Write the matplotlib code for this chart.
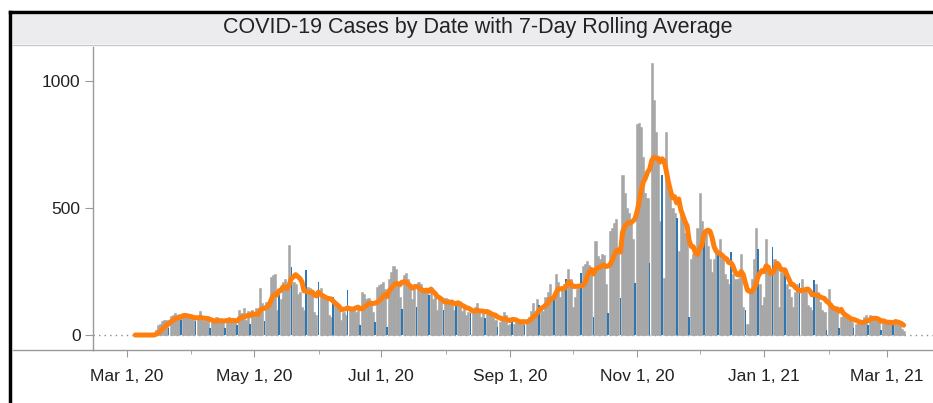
import matplotlib
matplotlib.use("Agg")
import matplotlib.pyplot as plt
import matplotlib.dates as mdates
from matplotlib.lines import Line2D
from matplotlib.patches import Rectangle
import numpy as np
import pandas as pd

plt.rcParams['font.family'] = ['Liberation Sans', 'DejaVu Sans']

# daily cases from 2020-03-05, one row per highlighted (blue) day
start_date = "2020-03-05"
cases = [
    0, 0, 0, 0, 0, 0, 0, 0, 0, 0,
    20, 40, 45, 55, 60, 60, 26,
    75, 80, 85, 78, 82, 60,
    75, 80, 70, 72, 65, 60, 55,
    70, 95, 60, 55, 62, 58, 26,
    55, 65, 70, 60, 62, 50, 28,
    65, 70, 60, 68, 55, 40,
    100, 85, 105, 60, 95, 45,
    100, 70, 105, 95, 184, 125, 55,
    130, 110, 230, 235, 240, 100, 175,
    140, 210, 220, 200, 355, 269,
    210, 200, 160, 170, 110, 100, 256,
    190, 185, 175, 90, 80, 210,
    185, 160, 150, 140, 80, 70, 150,
    130, 110, 100, 59, 90, 80, 177,
    110, 100, 100, 92, 110, 39,
    170, 160, 140, 145, 120, 90, 52,
    190, 195, 200, 210, 180, 33,
    220, 250, 270, 260, 200, 150, 102,
    235, 245, 220, 200, 140, 190, 109,
    210, 200, 185, 175, 170, 157,
    170, 140, 150, 100, 145, 130, 98,
    145, 140, 135, 120, 100, 120,
    130, 115, 95, 110, 80, 90, 85,
    85, 110, 125, 95, 70, 90, 66,
    90, 85, 88, 70, 60, 33,
    50, 60, 90, 80, 40, 45, 65,
    45, 50, 55, 60, 50, 40,
    60, 70, 95, 125, 80, 140, 120,
    110, 95, 150, 170, 200, 150, 150,
    240, 210, 150, 180, 200, 220,
    260, 220, 110, 150, 180, 200, 243,
    270, 280, 290, 275, 250, 72,
    370, 310, 300, 320, 315, 200, 85,
    410, 420, 440, 455, 330, 144,
    630, 560, 500, 480, 450, 380, 203,
    830, 835, 820, 700, 560, 540, 282,
    1070, 925, 800, 700, 450, 630,
    223, 800, 620, 560, 500, 480, 459,
    330, 500, 460, 400, 380, 72,
    300, 320, 330, 420, 560, 450, 380,
    400, 350, 300, 250, 300, 330, 328,
    380, 300, 240, 220, 200, 328,
    240, 220, 220, 224, 320, 110, 100,
    45, 180, 220, 300, 420, 338,
    200, 120, 150, 380, 260, 250, 348,
    300, 290, 110, 250, 250, 250,
    200, 180, 150, 110, 170, 200, 203,
    220, 180, 175, 120, 110, 100, 216,
    200, 170, 130, 100, 90, 20,
    180, 125, 110, 100, 95, 26,
    70, 75, 80, 72, 60, 50, 26,
    45, 50, 55, 60, 70, 79, 39,
    79, 75, 60, 55, 50, 20,
    55, 60, 50, 60, 50, 40,
    55, 45, 40, 25, 15,
]
blue_days = [16, 22, 29, 36, 43, 49, 55, 62, 69, 75, 82, 88, 95, 102, 108,
             115, 121, 128, 135, 141, 148, 154, 161, 168, 174, 181, 187, 194,
             201, 207, 214, 220, 227, 233, 240, 247, 253, 260, 266, 273, 280,
             286, 293, 299, 306, 312, 319, 326, 332, 338, 345, 352, 358, 364]
y_ticks = [0, 500, 1000]
title = "COVID-19 Cases by Date with 7-Day Rolling Average"

dates = pd.date_range(start_date, periods=len(cases), freq="D")
s = pd.Series(cases, index=dates, dtype=float)
rolling = s.rolling(7, min_periods=1).mean()
blue = np.zeros(len(cases), dtype=bool)
blue[blue_days] = True

W, H = 933, 403
fig = plt.figure(figsize=(W / 100, H / 100), dpi=100)
ax = fig.add_axes([93 / W, 1 - 350 / H, (W - 93) / W, (350 - 47) / H])

ax.axhline(0, color="#8c8c8c", ls=(0, (1, 3)), lw=1, zorder=1)
ax.bar(dates[~blue], s[~blue], width=1.0, color="#a6a6a6",
       edgecolor="#a6a6a6", linewidth=0.4, zorder=2)
ax.bar(dates[blue], s[blue], width=0.8, color="#2c77b5", linewidth=0, zorder=3)
ax.plot(dates, rolling, color="#ff7f0e", lw=3.6, solid_joinstyle="round",
        solid_capstyle="round", zorder=4)

ref = mdates.date2num(pd.Timestamp("2020-03-01"))
ax.set_xlim(ref - 16.3, ref + 387.1)
ax.set_ylim(-59, 1134)

ax.xaxis.set_major_locator(mdates.MonthLocator(bymonth=[1, 3, 5, 7, 9, 11]))
ax.xaxis.set_minor_locator(mdates.MonthLocator())
ax.xaxis.set_major_formatter(plt.FuncFormatter(
    lambda v, p: "{} {}, {}".format(mdates.num2date(v).strftime("%b"),
                                    mdates.num2date(v).day,
                                    mdates.num2date(v).strftime("%y"))))
ax.set_yticks(y_ticks)

for sp in ["top", "right"]:
    ax.spines[sp].set_visible(False)
for sp in ["left", "bottom"]:
    ax.spines[sp].set_color("#9a9a9a")
    ax.spines[sp].set_linewidth(1)

ax.tick_params(axis="y", length=6, color="#9a9a9a", labelsize=12.5,
               labelcolor="#222222", pad=3)
ax.tick_params(axis="x", which="major", length=5, color="#9a9a9a",
               labelsize=12.5, labelcolor="#222222", pad=9)
ax.tick_params(axis="x", which="minor", length=3, color="#9a9a9a")

# frame pieces around the chart
fig.add_artist(Line2D([13 / W, 93 / W], [1 - 350 / H] * 2, color="#9a9a9a", lw=1))
fig.add_artist(Rectangle((13 / W, 1 - 44 / H), (W - 13) / W, 29 / H,
                         facecolor="#ececef", edgecolor="none"))
fig.add_artist(Line2D([13 / W, 1], [1 - 45 / H] * 2, color="#c8c8c8", lw=1))
fig.add_artist(Line2D([10 / W, 1], [1 - 12 / H] * 2, color="black", lw=2.5))
fig.add_artist(Line2D([10 / W] * 2, [0, 1 - 12 / H], color="black", lw=2.5))
fig.text(478 / W, 1 - 28 / H, title, ha="center", va="center",
         fontsize=15.5, color="#222222")

fig.savefig("out.png", dpi=100)
